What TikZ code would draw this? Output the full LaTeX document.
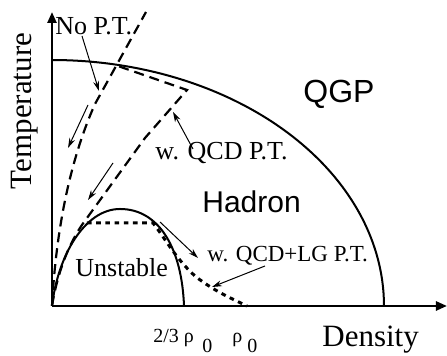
\documentclass[tikz,border=0pt]{standalone}
\usepackage{fontspec}
\setmainfont{Liberation Serif}
\setsansfont{Liberation Sans}
\usepackage{xcolor}
\usepackage{tikz}
\usetikzlibrary{arrows.meta}
\definecolor{ink}{RGB}{0,0,0}
\tikzset{
  axisline/.style={line width=1.2pt, draw=ink, -{Triangle[length=5.5pt,width=4.5pt]}},
  boundary/.style={line width=1pt, draw=ink},
  traj/.style={line width=1.1pt, draw=ink, dash pattern=on 5pt off 3pt},
  trajdot/.style={line width=1.5pt, draw=ink, dash pattern=on 2.3pt off 2.3pt},
  pointer/.style={line width=0.5pt, draw=ink, -{Stealth[length=5pt,width=3pt]}},
  lbl/.style={font=\fontsize{13}{15}\selectfont, inner sep=0pt, anchor=base west},
  lblsmall/.style={lbl, font=\fontsize{11.5}{14}\selectfont},
  ticklbl/.style={lbl, font=\fontsize{10}{12}\selectfont},
  axlbl/.style={font=\fontsize{15.5}{18}\selectfont, inner sep=0pt, anchor=base west},
  phase/.style={font=\sffamily\fontsize{16}{19}\selectfont, inner sep=0pt, anchor=base west},
}

\begin{document}
\begin{tikzpicture}[x=0.5pt, y=-0.5pt]
  \useasboundingbox (0,0) rectangle (447,356);

  % axes
  \coordinate (o) at (52,306);
  \coordinate (ytop) at (52,12);
  \coordinate (xend) at (447,306);
  \draw[axisline] (o) -- (ytop);
  \draw[axisline] (o) -- (xend);
  \node[axlbl, rotate=90, anchor=base] (temp) at (32,111) {Temperature};
  \node[axlbl] (dens) at (322,347) {Density};
  \node[ticklbl] (rhoa) at (153,343) {2/3 ρ};
  \node[ticklbl] (suba) at (202,353) {0};
  \node[ticklbl] (rhob) at (232,343) {ρ};
  \node[ticklbl] (subb) at (247,353) {0};

  % phase boundary and spinodal dome
  \draw[boundary] plot[domain=0:90, samples=60, smooth] ({52+332*cos(\x)}, {306-246*sin(\x)});
  \draw[boundary] (o) .. controls (58,255) and (85,209) .. (120,209)
                      .. controls (160,209) and (182,250) .. (184,306);

  % expansion paths
  \draw[traj] (o) .. controls (56,230) and (70,160) .. (95,104) -- (146,12);
  \draw[traj] (o) .. controls (58,270) and (70,240) .. (87,218)
                  -- (145,138) -- (187,90) -- (115,65);
  \draw[trajdot] (87,223) -- (153,223) .. controls (165,238) and (175,258) .. (195,276)
                 .. controls (215,292) and (235,300) .. (247,306);

  % labels
  \node[phase] (qgp) at (303,103) {QGP};
  \node[phase, font=\sffamily\fontsize{15}{18}\selectfont] (hadron) at (202,213) {Hadron};
  \node[lbl] (unst) at (75,277) {Unstable};
  \node[lbl] (nopt) at (55,35) {No P.T.};
  \node[lbl] (qcdpt) at (155,160) {w. QCD P.T.};
  \node[lblsmall] (lgpt) at (207,262) {w. QCD+LG P.T.};

  % pointers
  \coordinate (a1s) at (82,36);   \coordinate (a1e) at (99,91);
  \coordinate (a2s) at (88,105);  \coordinate (a2e) at (68,148);
  \coordinate (a3s) at (113,163); \coordinate (a3e) at (88,200);
  \coordinate (a4s) at (193,149); \coordinate (a4e) at (173,112);
  \coordinate (a5s) at (160,222); \coordinate (a5e) at (198,258);
  \coordinate (a6s) at (265,266); \coordinate (a6e) at (212,287);
  \draw[pointer] (a1s) -- (a1e);
  \draw[pointer] (a2s) -- (a2e);
  \draw[pointer] (a3s) -- (a3e);
  \draw[pointer] (a4s) -- (a4e);
  \draw[pointer] (a5s) -- (a5e);
  \draw[pointer] (a6s) -- (a6e);
\end{tikzpicture}
\end{document}
